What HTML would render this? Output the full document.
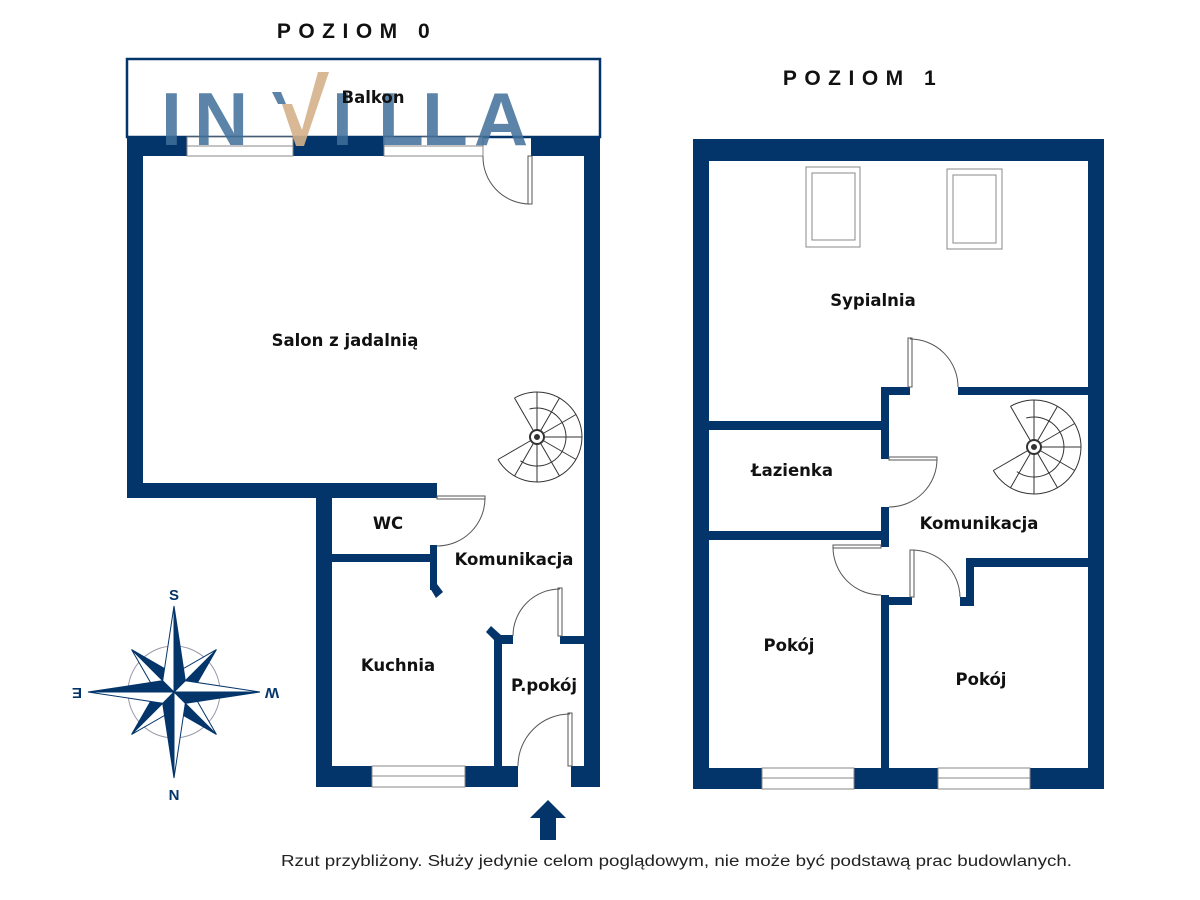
<!DOCTYPE html>
<html><head><meta charset="utf-8"><style>
html,body{margin:0;padding:0;background:#fff;}
svg{display:block;}
text{font-family:"Liberation Sans",sans-serif;}
.lbl{font-family:"DejaVu Sans","Liberation Sans",sans-serif;font-weight:bold;font-size:16.5px;fill:#111;text-anchor:middle;}
</style></head><body>
<svg id="s" width="1200" height="900" viewBox="0 0 1200 900" xmlns="http://www.w3.org/2000/svg">
<g fill="#04356a">
<rect x="127" y="59" width="473" height="78" fill="none" stroke="#04356a" stroke-width="2.5"/>
<rect x="127" y="137" width="60" height="19"/>
<rect x="293" y="137" width="91" height="19"/>
<rect x="531" y="137" width="69" height="19"/>
<rect x="127" y="137" width="16" height="361"/>
<rect x="584" y="137" width="16" height="650"/>
<rect x="127" y="483" width="310" height="15"/>
<rect x="316" y="483" width="16" height="304"/>
<rect x="430" y="483" width="7" height="14"/>
<rect x="332" y="554" width="105" height="8"/>
<rect x="430" y="545" width="7" height="45"/>
<polygon points="430,588 437,584 443,592 436,598"/>
<rect x="316" y="766" width="56" height="21"/>
<rect x="465" y="766" width="53" height="21"/>
<rect x="571" y="766" width="29" height="21"/>
<rect x="494" y="635" width="8" height="131"/>
<rect x="494" y="635" width="19" height="9"/>
<polygon points="486,632 491,626 502,636 496,642"/>
<rect x="560" y="636" width="24" height="8"/>
<rect x="693" y="139" width="411" height="22"/>
<rect x="693" y="139" width="16" height="650"/>
<rect x="1088" y="139" width="16" height="650"/>
<rect x="693" y="768" width="69" height="21"/>
<rect x="854" y="768" width="84" height="21"/>
<rect x="1030" y="768" width="74" height="21"/>
<rect x="958" y="387" width="130" height="8"/>
<rect x="881" y="387" width="29" height="8"/>
<rect x="881" y="387" width="8" height="72"/>
<rect x="881" y="507" width="8" height="40"/>
<rect x="709" y="421" width="172" height="9"/>
<rect x="709" y="531" width="180" height="9"/>
<rect x="881" y="595" width="8" height="173"/>
<rect x="881" y="597" width="31" height="8"/>
<rect x="960" y="597" width="14" height="9"/>
<rect x="966" y="558" width="8" height="48"/>
<rect x="966" y="558" width="122" height="9"/>
</g>
<g fill="#fff" stroke="#888" stroke-width="1">
<rect x="187" y="137" width="106" height="19"/><line x1="187" y1="146" x2="293" y2="146"/>
<rect x="384" y="137" width="99" height="19"/><line x1="384" y1="146" x2="483" y2="146"/>
<rect x="372" y="766" width="93" height="21"/><line x1="372" y1="776" x2="465" y2="776"/>
<rect x="762" y="768" width="92" height="21"/><line x1="762" y1="778" x2="854" y2="778"/>
<rect x="938" y="768" width="92" height="21"/><line x1="938" y1="778" x2="1030" y2="778"/>
<rect x="806" y="167" width="54" height="80"/><rect x="812" y="173" width="43" height="67"/>
<rect x="947" y="169" width="55" height="80"/><rect x="953" y="175" width="43" height="68"/>
</g>
<g fill="none" stroke="#555" stroke-width="1">
<rect x="528" y="156" width="4" height="48" fill="#fff"/><path d="M483,156 A47,47 0 0 0 530,204"/>
<rect x="437" y="496" width="48" height="3" fill="#fff"/><path d="M485,498 A48,48 0 0 1 437,546"/>
<rect x="558" y="588" width="4" height="48" fill="#fff"/><path d="M513,636 A47,47 0 0 1 560,589"/>
<rect x="568" y="713" width="4" height="53" fill="#fff"/><path d="M518,766 A52,52 0 0 1 570,714"/>
<rect x="908" y="338" width="4" height="49" fill="#fff"/><path d="M910,339 A48,48 0 0 1 958,387"/>
<rect x="889" y="457" width="48" height="3" fill="#fff"/><path d="M937,459 A48,48 0 0 1 889,507"/>
<rect x="833" y="545" width="48" height="3" fill="#fff"/><path d="M833,547 A48,48 0 0 0 881,595"/>
<rect x="910" y="550" width="4" height="47" fill="#fff"/><path d="M912,550 A48,48 0 0 1 960,597"/>
</g>
<g id="st0" fill="none" stroke="#333" stroke-width="1"></g>
<g id="st1" fill="none" stroke="#333" stroke-width="1"></g>
<g font-size="75" fill="#3f6f9a" opacity="0.85" font-family="Liberation Sans" font-weight="bold">
<text x="161" y="145">I</text>
<text x="194" y="145">N</text>
<text x="332" y="145">I</text>
<text x="378" y="145">L</text>
<text x="422" y="145">L</text>
<text x="474" y="145">A</text>
</g>
<polygon points="272,92 281,92 286,104 278,104" fill="#3f6f9a" opacity="0.85"/>
<polygon points="282,104 292,104 302,130 318,72 329,72 304,146 296,146" fill="#d4b08a" opacity="0.9"/>
<text class="lbl" x="373" y="103">Balkon</text>
<text class="lbl" x="345" y="346">Salon z jadalnią</text>
<text class="lbl" x="388" y="529">WC</text>
<text class="lbl" x="514" y="565">Komunikacja</text>
<text class="lbl" x="398" y="671">Kuchnia</text>
<text class="lbl" x="544" y="691">P.pokój</text>
<text class="lbl" x="873" y="306">Sypialnia</text>
<text class="lbl" x="792" y="476">Łazienka</text>
<text class="lbl" x="979" y="529">Komunikacja</text>
<text class="lbl" x="789" y="651">Pokój</text>
<text class="lbl" x="981" y="685">Pokój</text>
<text x="357" y="38" font-family="DejaVu Sans" font-weight="bold" font-size="21" letter-spacing="7.5" text-anchor="middle" fill="#111">POZIOM 0</text>
<text x="863" y="85" font-family="DejaVu Sans" font-weight="bold" font-size="21" letter-spacing="7.5" text-anchor="middle" fill="#111">POZIOM 1</text>
<polygon points="548,800 566,818 556,818 556,840 540,840 540,818 530,818" fill="#04356a"/>
<text x="281" y="866" font-size="15.5" textLength="791" lengthAdjust="spacingAndGlyphs" fill="#222">Rzut przybliżony. Służy jedynie celom poglądowym, nie może być podstawą prac budowlanych.</text>
<g transform="translate(174,692)">
<circle r="46" fill="none" stroke="#99a" stroke-width="1"/>
<g id="cp" stroke="#04356a" stroke-width="1"></g>
<text x="0" y="-92" font-size="15" font-weight="bold" fill="#04356a" text-anchor="middle">S</text>
<text x="0" y="108" font-size="15" font-weight="bold" fill="#04356a" text-anchor="middle">N</text>
<text x="98" y="8" font-size="15" font-weight="bold" fill="#04356a" text-anchor="middle" transform="rotate(180 98 2)">W</text>
<text x="-97" y="8" font-size="15" font-weight="bold" fill="#04356a" text-anchor="middle" transform="rotate(180 -97 2)">E</text>
</g>
</svg>
<script>
var NS="http://www.w3.org/2000/svg";
function el(g,t,a){var e=document.createElementNS(NS,t);for(var k in a)e.setAttribute(k,a[k]);g.appendChild(e);return e;}
function stair(id,cx,cy,R,ri){
 var g=document.getElementById(id);var d=Math.PI/180;
 function p(r,a){return (cx+r*Math.cos(a*d)).toFixed(1)+","+(cy+r*Math.sin(a*d)).toFixed(1);}
 for(var a=-120;a<=150;a+=30){el(g,"path",{d:"M"+p(7,a)+" L"+p(R,a)});}
 el(g,"path",{d:"M"+p(R,-120)+" A"+R+","+R+" 0 1 1 "+p(R,150)});
 el(g,"path",{d:"M"+p(ri,-105)+" A"+ri+","+ri+" 0 1 1 "+p(ri,125)});
 el(g,"circle",{cx:cx,cy:cy,r:7,"stroke-width":2,fill:"#fff"});
 el(g,"circle",{cx:cx,cy:cy,r:2.5,fill:"#333"});
}
stair("st0",537,437,45,29);
stair("st1",1034,447,47,30);
var cp=document.getElementById("cp");
function pt(r,a){a=a*Math.PI/180;return (r*Math.cos(a)).toFixed(1)+","+(r*Math.sin(a)).toFixed(1);}
function ray(R,w,a){
 el(cp,"polygon",{points:"0,0 "+pt(R,a)+" "+pt(w,a+45),fill:"#04356a"});
 el(cp,"polygon",{points:"0,0 "+pt(R,a)+" "+pt(w,a-45),fill:"#fff"});
}
[45,135,225,315].forEach(function(a){ray(60,18,a);});
[0,90,180,270].forEach(function(a){ray(86,16,a);});
</script>
</body></html>
